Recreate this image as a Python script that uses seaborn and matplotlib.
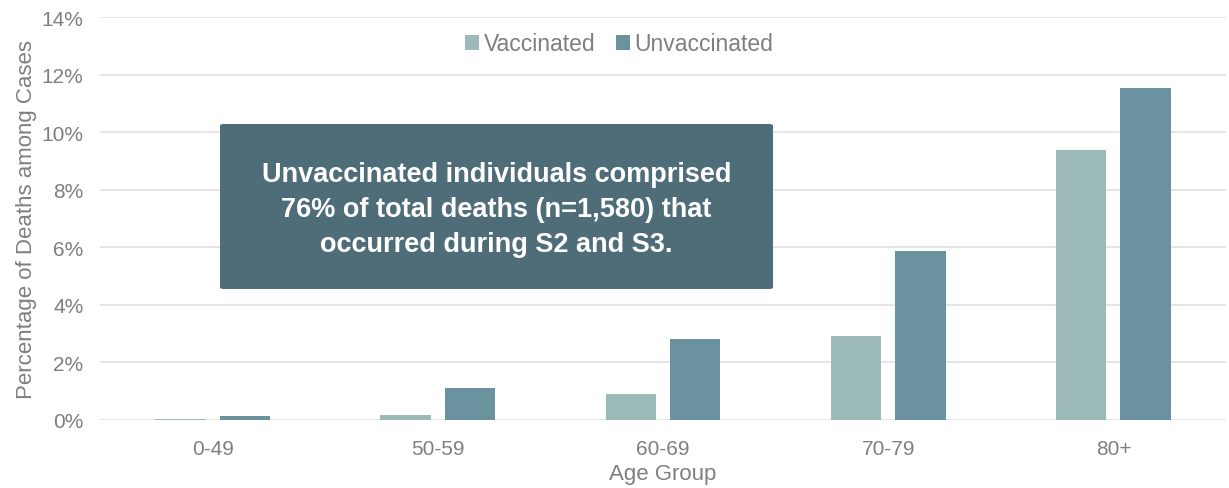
import matplotlib
matplotlib.use("Agg")
import matplotlib.pyplot as plt
import seaborn as sns
import pandas as pd
from matplotlib.patches import FancyBboxPatch
from matplotlib.ticker import FuncFormatter

# Case fatality (%) by age group and vaccination status
age_groups = ["0-49", "50-59", "60-69", "70-79", "80+"]
vaccinated = [0.05, 0.19, 0.90, 2.92, 9.38]
unvaccinated = [0.14, 1.11, 2.82, 5.86, 11.54]
statuses = ["Vaccinated", "Unvaccinated"]
yticks = [0, 2, 4, 6, 8, 10, 12, 14]
note = ("Unvaccinated individuals comprised\n"
        "76% of total deaths (n=1,580) that\n"
        "occurred during S2 and S3.")

df = pd.DataFrame({
    "Age Group": age_groups * 2,
    "Status": [statuses[0]] * len(age_groups) + [statuses[1]] * len(age_groups),
    "Pct": vaccinated + unvaccinated,
})

sns.set_theme(style="white")
plt.rcParams["font.family"] = ["Liberation Sans", "DejaVu Sans"]

grey = "#7F7F7F"
palette = {"Vaccinated": "#9BBAB7", "Unvaccinated": "#6B929F"}

fig = plt.figure(figsize=(12.29, 4.89), dpi=100)
ax = fig.add_axes([100 / 1229, 68 / 489, 1126 / 1229, 403 / 489])

sns.barplot(data=df, x="Age Group", y="Pct", hue="Status", hue_order=statuses,
            order=age_groups, palette=palette, saturation=1, width=0.572, gap=0.217,
            linewidth=0, ax=ax, zorder=3)

ax.set_ylim(0, 14)
ax.set_xlim(-0.5, 4.5)
ax.set_yticks(yticks)
ax.yaxis.set_major_formatter(FuncFormatter(lambda v, _: f"{v:.0f}%"))
ax.grid(axis="y", color="#E0E0E0", linewidth=1.2, zorder=0)
ax.set_axisbelow(True)
for s in ax.spines.values():
    s.set_visible(False)
ax.tick_params(axis="both", length=0, labelsize=15, colors=grey)
ax.tick_params(axis="y", pad=12)
ax.tick_params(axis="x", pad=14)
ax.set_xlabel("Age Group", fontsize=16, color=grey, labelpad=3)
ax.set_ylabel("Percentage of Deaths among Cases", fontsize=16, color=grey, labelpad=3)

leg = ax.legend(loc="upper center", bbox_to_anchor=(0.461, 1.013), ncol=2, frameon=False,
                fontsize=16.5, handlelength=0.6, handleheight=0.6, handletextpad=0.2,
                columnspacing=0.9, labelcolor=grey)
leg.set_title(None)

# Annotation box
box = FancyBboxPatch((220 / 1229, 199 / 489), 553 / 1229, 165 / 489,
                     boxstyle="round,pad=0,rounding_size=0.003",
                     transform=fig.transFigure, facecolor="#4E6D78",
                     edgecolor="none", zorder=10)
fig.patches.append(box)
fig.text(496.5 / 1229, 279 / 489, note, ha="center", va="center", color="white",
         fontsize=19.5, fontweight="bold", linespacing=1.45, zorder=11)

fig.savefig("out.png", dpi=100)
